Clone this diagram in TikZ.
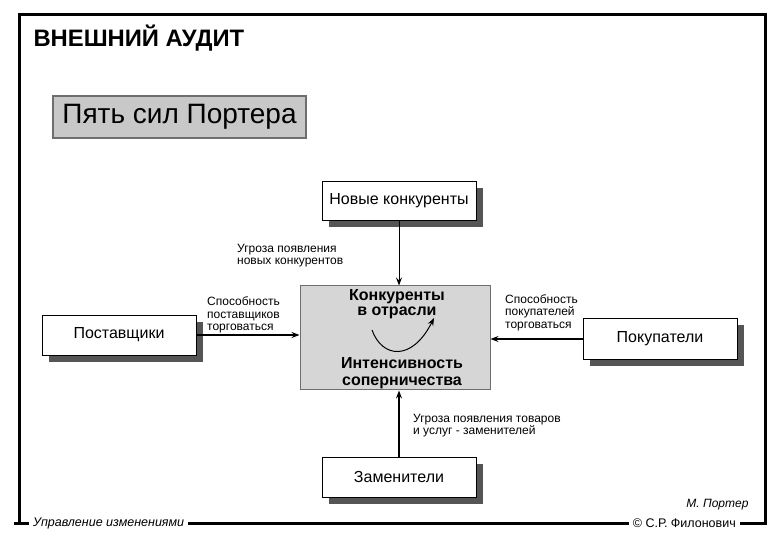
\documentclass[tikz,border=0pt]{standalone}
\usepackage{fontspec}
\setmainfont{Liberation Sans}
\usepackage{xcolor}
\usetikzlibrary{arrows.meta,shadows}
\definecolor{framegray}{HTML}{6E6E6E}
\definecolor{titlegray}{HTML}{C8C8C8}
\definecolor{boxgray}{HTML}{D6D6D6}
\definecolor{shadowgray}{HTML}{555555}
\tikzset{
  frame/.style={line width=3pt},
  forcebox/.style={draw,fill=white,line width=0.8pt,minimum width=154,minimum height=39,
    font=\fontsize{16}{18}\selectfont,
    drop shadow={shadow xshift=7pt,shadow yshift=-7pt,fill=shadowgray,opacity=1}},
  flow/.style={-{Stealth[length=8pt,width=6pt,inset=3pt]},line width=1.6pt},
  lbl/.style={font=\fontsize{12}{12.5}\selectfont,align=left,anchor=north west,inner sep=0pt},
  strong/.style={font=\fontsize{16}{15}\selectfont\bfseries,align=center}
}

\begin{document}
\begin{tikzpicture}[x=1pt,y=-1pt]
  \useasboundingbox (0,0) rectangle (780,540);
  % Kopf
  \node[anchor=west,font=\fontsize{23.8}{27}\selectfont\bfseries] (title) at (30,38) {ВНЕШНИЙ АУДИТ};
  \node[draw=framegray,fill=titlegray,line width=1.5pt,minimum width=253,minimum height=42,
    font=\fontsize{28}{30}\selectfont] (porter) at (179.5,117) {Пять сил Портера};
  % Rahmen
  \node[anchor=west,inner xsep=4pt,font=\fontsize{12.5}{14}\selectfont\itshape] (footL) at (29,523) {Управление изменениями};
  \node[anchor=east,inner xsep=4pt,font=\fontsize{12.5}{14}\selectfont] (footR) at (740,523) {© С.Р. Филонович};
  \draw[frame] (footL.west) -- (14,523);
  \draw[frame] (19,523) |- (765,15) -- (765,523) -- (footR.east);
  \draw[frame] (footL.east) -- (footR.west);
  \node[anchor=east,font=\fontsize{12}{14}\selectfont\itshape] (author) at (752,505) {М. Портер};
  % Kräfte
  \node[draw=framegray,fill=boxgray,line width=1pt,minimum width=190,minimum height=104] (rival) at (395,338) {};
  \node[strong] (rivalTop) at (397,304.5) {Конкуренты\\в отрасли};
  \node[strong,font=\fontsize{16}{17}\selectfont\bfseries] (rivalBot) at (402,373.5) {Интенсивность\\соперничества};
  \draw[-{Stealth[length=8pt,width=6pt,inset=3pt]},line width=1pt] (372,330) .. controls (382,358) and (412,362) .. (434,318);
  \node[forcebox] (newc) at (399,201) {Новые конкуренты};
  \node[forcebox,minimum height=40] (supp) at (119,335) {Поставщики};
  \node[forcebox,minimum height=41] (buy) at (660,339) {Покупатели};
  \node[forcebox,minimum height=40] (subst) at (399,477) {Заменители};
  % Pfeile
  \draw[flow,line width=1pt] (newc.south) -- (newc.south |- rival.north);
  \draw[flow] (supp.east) -- (supp.east -| rival.west);
  \draw[flow] (buy.west) -- (buy.west -| rival.east);
  \draw[flow] (subst.north) -- (subst.north |- rival.south);
  \node[lbl] (newLbl) at (237,244) {Угроза появления\\новых конкурентов};
  \node[lbl] (suppLbl) at (207,297) {Способность\\поставщиков\\торговаться};
  \node[lbl] (buyLbl) at (505,294) {Способность\\покупателей\\торговаться};
  \node[lbl] (substLbl) at (413,414) {Угроза появления товаров\\и услуг - заменителей};
\end{tikzpicture}
\end{document}
